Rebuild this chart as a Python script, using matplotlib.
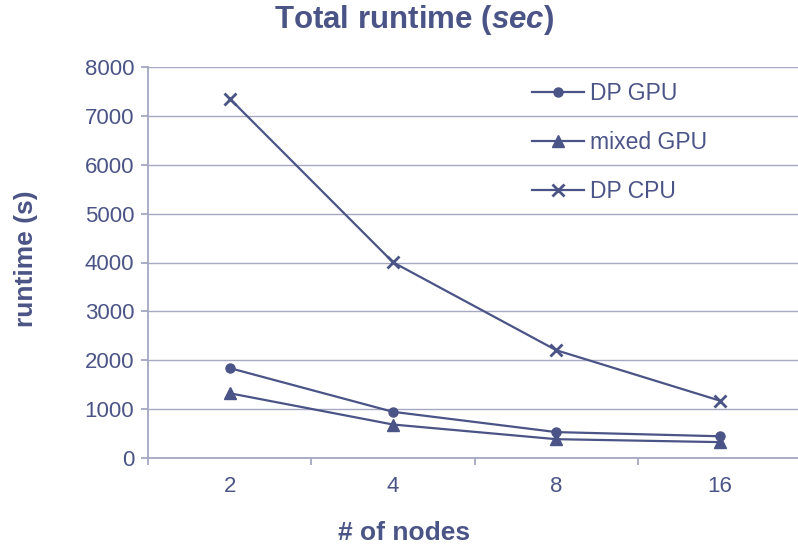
import matplotlib
matplotlib.use("Agg")
import matplotlib.pyplot as plt

nodes = ["2", "4", "8", "16"]
dp_gpu = [1840, 945, 530, 445]
mixed_gpu = [1325, 685, 385, 325]
dp_cpu = [7355, 4005, 2205, 1175]

ink = "#4B5486"
rule = "#A4A8C2"

plt.rcParams["font.family"] = ["Liberation Sans", "DejaVu Sans"]
plt.rcParams["mathtext.fontset"] = "custom"
plt.rcParams["mathtext.it"] = "Liberation Sans:italic:bold"

fig = plt.figure(figsize=(7.98, 5.46), dpi=100)
ax = fig.add_axes([148 / 798, 1 - 458 / 546, 650 / 798, 391 / 546])

x = range(len(nodes))
ax.plot(x, dp_gpu, color=ink, lw=1.6, marker="o", ms=6.5, label="DP GPU")
ax.plot(x, mixed_gpu, color=ink, lw=1.6, marker="^", ms=8, label="mixed GPU")
ax.plot(x, dp_cpu, color=ink, lw=1.6, marker="x", ms=8, mew=2, label="DP CPU")

ax.set_ylim(0, 8000)
ax.set_yticks(range(0, 8001, 1000))
ax.set_xlim(-0.5, 3.48)
ax.set_xticks(x)
ax.set_xticklabels(nodes)
ax.set_xticks([-0.5, 0.5, 1.5, 2.5], minor=True)

ax.grid(axis="y", color=rule, lw=1.0)
ax.set_axisbelow(True)
for side in ["top", "right"]:
    ax.spines[side].set_visible(False)
for side in ["left", "bottom"]:
    ax.spines[side].set_color(rule)
    ax.spines[side].set_linewidth(1.3)

ax.tick_params(axis="y", colors=rule, labelcolor=ink, labelsize=16, length=5, width=1.3, pad=5)
ax.tick_params(axis="x", which="major", length=0, labelcolor=ink, labelsize=16, pad=13)
ax.tick_params(axis="x", which="minor", length=5, width=1.3, color=rule)

# axis titles sit a little left of the plot centre
fig.text(404 / 798, 1 - 533 / 546, "# of nodes", ha="center", va="center",
         fontsize=19, fontweight="bold", color=ink)
fig.text(26 / 798, 1 - 259 / 546, "runtime (s)", ha="center", va="center",
         rotation=90, fontsize=19, fontweight="bold", color=ink)
fig.text(414 / 798, 1 - 20 / 546, r"Total runtime ($sec$)", ha="center", va="center",
         fontsize=22.5, fontweight="bold", color=ink)

leg = ax.legend(loc="upper left", bbox_to_anchor=(532 / 798, 1 - 82 / 546),
                bbox_transform=fig.transFigure, frameon=False, fontsize=16.5,
                handlelength=2.27, labelspacing=1.13, handletextpad=0.26,
                borderpad=0, borderaxespad=0)
for t in leg.get_texts():
    t.set_color(ink)

fig.savefig("out.png", dpi=100)
